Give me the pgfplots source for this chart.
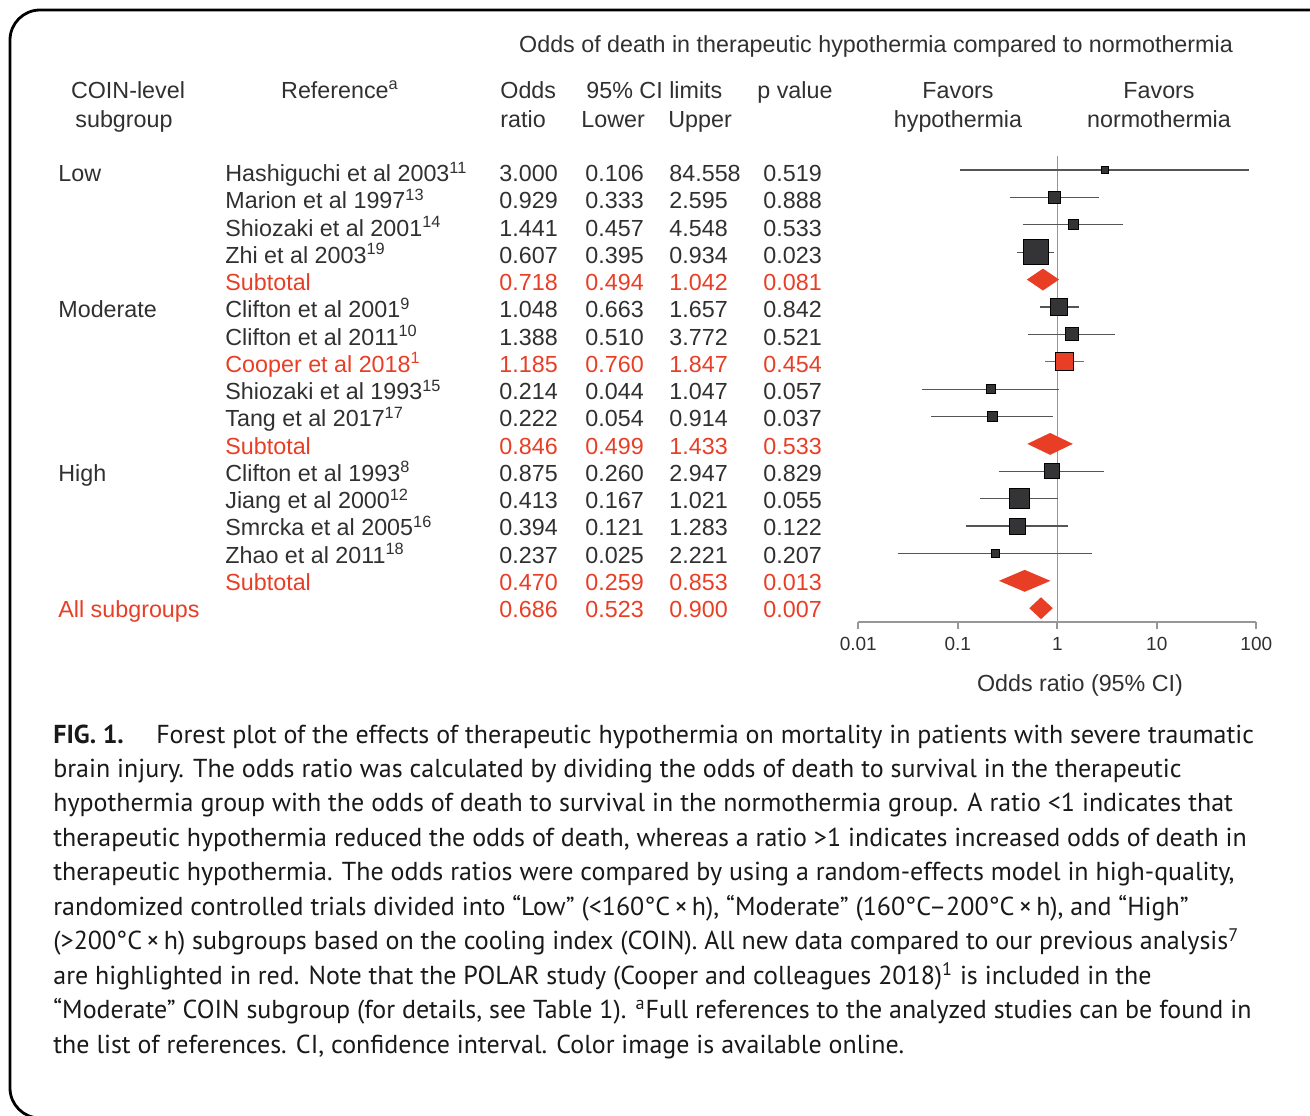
\documentclass[border=0pt]{standalone}
\usepackage{pgfplots}
\pgfplotsset{compat=1.18}
\usepackage{fontspec}
\setmainfont{Liberation Sans}
\newfontfamily\capfont{PT Sans}
\definecolor{myred}{RGB}{232,62,38}
\definecolor{txt}{RGB}{48,48,48}
\definecolor{sq}{RGB}{52,52,54}
\definecolor{cil}{RGB}{85,85,85}
\definecolor{axg}{RGB}{150,150,155}
\newcommand\tf{\fontsize{11.65}{14}\selectfont}
\newcommand\cf{\capfont\fontsize{12.98}{15}\selectfont}
\newcommand\trow[7]{%
  \pgfmathsetmacro\yy{181.7+27.25*(#1-1)}%
  \node[anchor=base west,inner sep=0,text=#2,font=\tf] at (225,\yy) {#3};
  \node[anchor=base west,inner sep=0,text=#2,font=\tf] at (499,\yy) {#4};
  \node[anchor=base west,inner sep=0,text=#2,font=\tf] at (585,\yy) {#5};
  \node[anchor=base west,inner sep=0,text=#2,font=\tf] at (669,\yy) {#6};
  \node[anchor=base west,inner sep=0,text=#2,font=\tf] at (763,\yy) {#7};
}
\newcommand\study[5]{% row, or, lo, hi, side(px)
  \addplot[cil, line width=0.6pt] coordinates {(#3,-#1) (#4,-#1)};
  \addplot[only marks, mark=square*, mark size=#5pt/4, mark options={fill=sq, draw=none}] coordinates {(#2,-#1)};
}
\newcommand\diam[4]{% row, or, lo, hi
  \addplot[fill=myred, draw=none] coordinates {(#3,-#1) (#2,-#1+0.4) (#4,-#1) (#2,-#1-0.4)} -- cycle;
}
\begin{document}
\begin{tikzpicture}
\begin{scope}[x=0.5pt,y=-0.5pt]
\useasboundingbox (0,0) rectangle (1310,1115);
\clip (0,0) rectangle (1310,1115);
\draw[line width=1.4pt, rounded corners=15pt] (1350,10) -- (10,10) -- (10,1118) -- (1350,1118);

% headers
\node[anchor=base,inner sep=0,text=txt,font=\tf] at (876,52.7) {Odds of death in therapeutic hypothermia compared to normothermia};
\node[anchor=base,inner sep=0,text=txt,font=\tf] at (128,98.3) {COIN-level};
\node[anchor=base,inner sep=0,text=txt,font=\tf] at (124,127.3) {subgroup};
\node[anchor=base,inner sep=0,text=txt,font=\tf] at (340,98.3) {Reference\textsuperscript{a}};
\node[anchor=base west,inner sep=0,text=txt,font=\tf] at (500,98.3) {Odds};
\node[anchor=base west,inner sep=0,text=txt,font=\tf] at (500,127.3) {ratio};
\node[anchor=base west,inner sep=0,text=txt,font=\tf] at (586,98.3) {95\% CI limits};
\node[anchor=base west,inner sep=0,text=txt,font=\tf] at (581,127.3) {Lower};
\node[anchor=base west,inner sep=0,text=txt,font=\tf] at (668,127.3) {Upper};
\node[anchor=base west,inner sep=0,text=txt,font=\tf] at (757,98.3) {p value};
\node[anchor=base,inner sep=0,text=txt,font=\tf] at (958,98.3) {Favors};
\node[anchor=base,inner sep=0,text=txt,font=\tf] at (958,127.3) {hypothermia};
\node[anchor=base,inner sep=0,text=txt,font=\tf] at (1159,98.3) {Favors};
\node[anchor=base,inner sep=0,text=txt,font=\tf] at (1159,127.3) {normothermia};

% subgroup labels
\node[anchor=base west,inner sep=0,text=txt,font=\tf] at (58,181.7) {Low};
\node[anchor=base west,inner sep=0,text=txt,font=\tf] at (58,{181.7+27.25*5}) {Moderate};
\node[anchor=base west,inner sep=0,text=txt,font=\tf] at (58,{181.7+27.25*11}) {High};
\node[anchor=base west,inner sep=0,text=myred,font=\tf] at (58,{181.7+27.25*16}) {All subgroups};

\trow{1}{txt}{Hashiguchi et al 2003\textsuperscript{11}}{3.000}{0.106}{84.558}{0.519}
\trow{2}{txt}{Marion et al 1997\textsuperscript{13}}{0.929}{0.333}{2.595}{0.888}
\trow{3}{txt}{Shiozaki et al 2001\textsuperscript{14}}{1.441}{0.457}{4.548}{0.533}
\trow{4}{txt}{Zhi et al 2003\textsuperscript{19}}{0.607}{0.395}{0.934}{0.023}
\trow{5}{myred}{Subtotal}{0.718}{0.494}{1.042}{0.081}
\trow{6}{txt}{Clifton et al 2001\textsuperscript{9}}{1.048}{0.663}{1.657}{0.842}
\trow{7}{txt}{Clifton et al 2011\textsuperscript{10}}{1.388}{0.510}{3.772}{0.521}
\trow{8}{myred}{Cooper et al 2018\textsuperscript{1}}{1.185}{0.760}{1.847}{0.454}
\trow{9}{txt}{Shiozaki et al 1993\textsuperscript{15}}{0.214}{0.044}{1.047}{0.057}
\trow{10}{txt}{Tang et al 2017\textsuperscript{17}}{0.222}{0.054}{0.914}{0.037}
\trow{11}{myred}{Subtotal}{0.846}{0.499}{1.433}{0.533}
\trow{12}{txt}{Clifton et al 1993\textsuperscript{8}}{0.875}{0.260}{2.947}{0.829}
\trow{13}{txt}{Jiang et al 2000\textsuperscript{12}}{0.413}{0.167}{1.021}{0.055}
\trow{14}{txt}{Smrcka et al 2005\textsuperscript{16}}{0.394}{0.121}{1.283}{0.122}
\trow{15}{txt}{Zhao et al 2011\textsuperscript{18}}{0.237}{0.025}{2.221}{0.207}
\trow{16}{myred}{Subtotal}{0.470}{0.259}{0.853}{0.013}
\node[anchor=base west,inner sep=0,text=myred,font=\tf] at (499,{181.7+27.25*16}) {0.686};
\node[anchor=base west,inner sep=0,text=myred,font=\tf] at (585,{181.7+27.25*16}) {0.523};
\node[anchor=base west,inner sep=0,text=myred,font=\tf] at (669,{181.7+27.25*16}) {0.900};
\node[anchor=base west,inner sep=0,text=myred,font=\tf] at (763,{181.7+27.25*16}) {0.007};

\node[anchor=base,inner sep=0,text=txt,font=\tf] at (1080,691) {Odds ratio (95\% CI)};

% caption
\begin{scope}[every node/.style={anchor=base west,inner sep=0,font=\cf,text=black!90}]
\node at (53,743) {\textbf{FIG. 1.}\hspace{1.25em}Forest plot of the effects of therapeutic hypothermia on mortality in patients with severe traumatic};
\node at (53,777.45) {brain injury. The odds ratio was calculated by dividing the odds of death to survival in the therapeutic};
\node at (53,811.9) {hypothermia group with the odds of death to survival in the normothermia group. A ratio <1 indicates that};
\node at (53,846.35) {therapeutic hypothermia reduced the odds of death, whereas a ratio >1 indicates increased odds of death in};
\node at (53,880.8) {therapeutic hypothermia. The odds ratios were compared by using a random-effects model in high-quality,};
\node at (53,915.25) {randomized controlled trials divided into “Low” (<160°C\,×\,h), “Moderate” (160°C–200°C\,×\,h), and “High”};
\node at (53,949.7) {(>200°C\,×\,h) subgroups based on the cooling index (COIN). All new data compared to our previous analysis\textsuperscript{7}};
\node at (53,984.15) {are highlighted in red. Note that the POLAR study (Cooper and colleagues 2018)\textsuperscript{1} is included in the};
\node at (53,1018.6) {“Moderate” COIN subgroup (for details, see Table 1). \textsuperscript{a}Full references to the analyzed studies can be found in};
\node at (53,1053.05) {the list of references. CI, confidence interval. Color image is available online.};
\end{scope}
\end{scope}

\begin{axis}[at={(429.15pt,-310.95pt)}, anchor=south west, scale only axis,
  width=199pt, height=232.8pt, xmode=log, xmin=0.01, xmax=100,
  ymin=-17.5, ymax=-0.5, axis x line=bottom, axis y line=none,
  xtick={0.01,0.1,1,10,100}, xticklabels={0.01,0.1,1,10,100},
  xminorticks=false, tick align=outside, major tick length=3.5pt,
  x axis line style={draw=axg, line width=1pt, -},
  xtick style={draw=axg, line width=1pt},
  xticklabel style={font=\fontsize{9.5}{10}\selectfont, text=txt, inner sep=1pt, yshift=-3pt},
  clip=false]
\addplot[axg, line width=0.8pt] coordinates {(1,-0.5) (1,-17.5)};
\study{1}{3.000}{0.106}{84.558}{7}
\study{2}{0.929}{0.333}{2.595}{12}
\study{3}{1.441}{0.457}{4.548}{10}
\study{4}{0.607}{0.395}{0.934}{25}
\diam{5}{0.718}{0.494}{1.042}
\study{6}{1.048}{0.663}{1.657}{17}
\study{7}{1.388}{0.510}{3.772}{13}
\addplot[myred, line width=0.6pt] coordinates {(0.760,-8) (1.847,-8)};
\addplot[only marks, mark=square*, mark size=4.5pt, mark options={fill=myred, draw=none}] coordinates {(1.185,-8)};
\study{9}{0.214}{0.044}{1.047}{9}
\study{10}{0.222}{0.054}{0.914}{10}
\diam{11}{0.846}{0.499}{1.433}
\study{12}{0.875}{0.260}{2.947}{15}
\study{13}{0.413}{0.167}{1.021}{20}
\study{14}{0.394}{0.121}{1.283}{16}
\study{15}{0.237}{0.025}{2.221}{8}
\diam{16}{0.470}{0.259}{0.853}
\diam{17}{0.686}{0.523}{0.900}
\end{axis}
\end{tikzpicture}
\end{document}
